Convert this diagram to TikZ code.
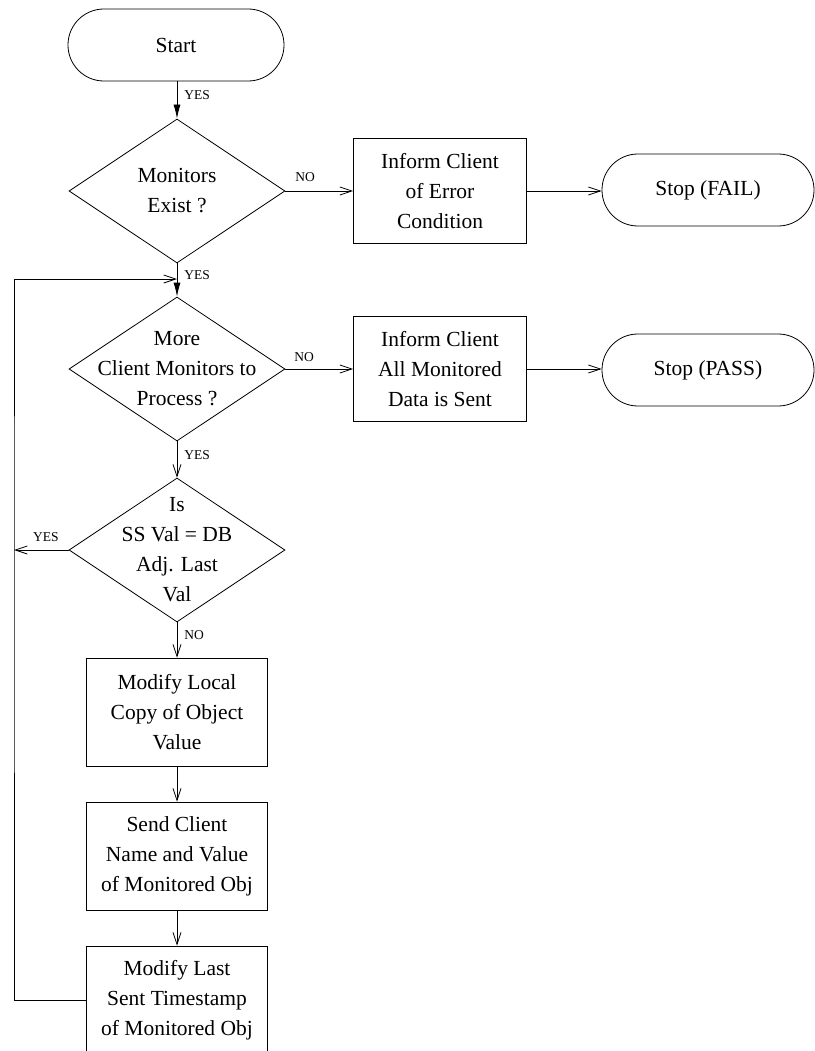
\documentclass[tikz,border=0pt]{standalone}
\usepackage{fontspec}
\setmainfont{Liberation Serif}
\usetikzlibrary{shapes.geometric,arrows.meta}
\begin{document}
\begin{tikzpicture}[x=1pt,y=-1pt,
  line width=0.8pt,
  every node/.style={inner sep=0pt},
  mtxt/.style={align=center,font=\fontsize{21.5}{30}\selectfont},
  term/.style={draw,rounded corners=35.9pt,minimum width=212pt,minimum height=72pt,mtxt},
  dia/.style={draw,diamond,minimum width=216pt,minimum height=144pt},
  procbox/.style={draw,rectangle,minimum width=173pt,minimum height=105pt,mtxt},
  sidebox/.style={draw,rectangle,minimum width=181pt,minimum height=108pt,mtxt},
  lbl/.style={font=\fontsize{13.5}{15}\selectfont},
  oa/.style={-{Straight Barb[length=12pt,width=8pt]}},
  fa/.style={-{Latex[length=14pt,width=7pt]}}
]
\useasboundingbox (0,0) rectangle (814,1051);

\node[term,minimum width=216pt] (start) at (176,45) {Start};

\node[dia] (d1) at (177,191) {};
\node[mtxt] (d1t) at (d1) {Monitors\\Exist ?};
\node[procbox] (b1) at (440,191) {Inform Client\\of Error\\Condition};
\node[term] (s1) at (708,190) {Stop (FAIL)};

\node[dia] (d2) at (177,369) {};
\node[mtxt] (d2t) at (d2) {More\\Client Monitors to\\Process ?};
\node[procbox] (b2) at (440,369) {Inform Client\\All Monitored\\Data is Sent};
\node[term] (s2) at (708,370) {Stop (PASS)};

\node[dia] (d3) at (177,550) {};
\node[mtxt] (d3t) at (d3) {Is\\SS Val = DB\\Adj. Last\\Val};

\node[sidebox] (b3) at (177,712) {Modify Local\\Copy of Object\\Value};
\node[sidebox] (b4) at (177,856) {Send Client\\Name and Value\\of Monitored Obj};
\node[sidebox] (b5) at (177,1000) {Modify Last\\Sent Timestamp\\of Monitored Obj};

\coordinate (j2) at (177,279);
\coordinate (l3) at (14,550);

% connectors
\draw[fa] (start.south -| d1.north) -- (d1.north);
\draw[fa] (d1.south) -- (d2.north);
\draw[oa] (d1.east) -- (b1.west);
\draw[oa] (b1.east) -- (s1.west |- b1.east);
\draw[oa] (d2.east) -- (b2.west);
\draw[oa] (b2.east) -- (s2.west |- b2.east);
\draw[oa] (d2.south) -- (d3.north);
\draw[oa] (d3.south) -- (b3.north);
\draw[oa] (b3.south) -- (b4.north);
\draw[oa] (b4.south) -- (b5.north);
\draw[oa] (d3.west) -- (l3);
\draw[oa] (b5.west) -| (l3) |- (j2);

% labels
\node[lbl,anchor=west] (ly1) at (184,95) {YES};
\node[lbl] (ln1) at (305,177) {NO};
\node[lbl,anchor=west] (ly2) at (184,275) {YES};
\node[lbl] (ln2) at (304,357) {NO};
\node[lbl,anchor=west] (ly3) at (184,455) {YES};
\node[lbl] (ly4) at (46,537) {YES};
\node[lbl,anchor=west] (ln3) at (184,635) {NO};
\end{tikzpicture}
\end{document}
